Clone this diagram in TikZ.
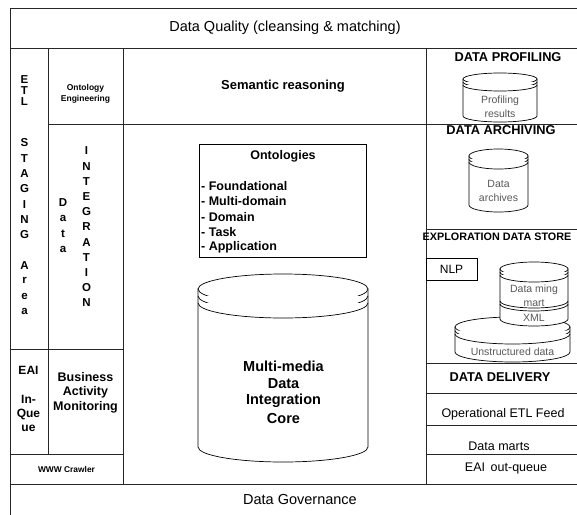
\documentclass[tikz,border=0pt]{standalone}
\usepackage{fontspec}
\setmainfont{Liberation Sans}
\newcommand\myfs[1]{\fontsize{#1}{#1}\selectfont}
\newcommand\mycyl[6]{% cx, rx, top, bottom, ry, gap
  \filldraw[cyl] (#1-#2,#3+#5) -- (#1-#2,#4-#5) arc[start angle=180,end angle=0,x radius=#2,y radius=#5] -- (#1+#2,#3+#5) -- cycle;
  \filldraw[cyl] (#1,#3+#5) ellipse[x radius=#2,y radius=#5];
  \draw[cyl] (#1-#2,#3+#5+#6) arc[start angle=180,end angle=0,x radius=#2,y radius=#5];
  \draw[cyl] (#1-#2,#3+#5+2*#6) arc[start angle=180,end angle=0,x radius=#2,y radius=#5];
}
\begin{document}
\begin{tikzpicture}[x=1pt,y=-1pt,
  ln/.style={draw=black!85,line width=0.8pt},
  cyl/.style={draw=black,fill=white,line width=0.7pt},
  t/.style={inner sep=0pt,anchor=center},
  vl/.style={t,font=\bfseries\myfs{11.5}},
  bx/.style={draw=black,line width=0.7pt,fill=white},
  gtx/.style={t,text=black!65,font=\myfs{10.5}}]
\useasboundingbox (0,0) rectangle (577,514);
\clip (0,0) rectangle (577,514);

% grid lines
\draw[ln] (10,8) rectangle (582,520);
\draw[ln] (10,48) -- (582,48);
\draw[ln] (48,124) -- (582,124);
\draw[ln] (10,349) -- (123,349);
\draw[ln] (10,454) -- (123,454);
\draw[ln] (10,484) -- (582,484);
\draw[ln] (48,48) -- (48,454);
\draw[ln] (123,48) -- (123,484);
\draw[ln] (426,48) -- (426,484);
\draw[ln] (426,229) -- (582,229);
\draw[ln] (426,363) -- (582,363);
\draw[ln] (426,393) -- (582,393);
\draw[ln] (426,425) -- (582,425);
\draw[ln] (426,454) -- (582,454);

% top / bottom bands
\node[t,font=\myfs{14.5}] (dq) at (285,28) {Data Quality (cleansing \& matching)};
\node[t,font=\myfs{14.5}] (dg) at (300,499) {Data Governance};

% left columns
\foreach \ch/\yy [count=\i] in {E/79.5,T/90.5,L/101.5}
  \node[vl] (etl\i) at (24.5,\yy) {\ch};
\foreach \ch/\yy [count=\i] in {S/143,T/158.3,A/173.6,G/188.9,I/204.2,N/219.5,G/234.8,A/265.4,r/280.7,e/296,a/311.3}
  \node[vl] (stg\i) at (24.5,\yy) {\ch};
\foreach \ch/\yy [count=\i] in {D/203,a/218.5,t/234,a/249.5}
  \node[vl] (dat\i) at (63,\yy) {\ch};
\foreach \ch [count=\i] in {I,N,T,E,G,R,A,T,I,O,N}
  \node[vl] (int\i) at (86.5,{151+(\i-1)*15.2}) {\ch};

\node[t,font=\bfseries\myfs{8.5}] (oe1) at (85.5,88) {Ontology};
\node[t,font=\bfseries\myfs{8.5}] (oe2) at (85.5,99) {Engineering};

\node[t,font=\bfseries\myfs{12}] (eai1) at (28.5,370) {EAI};
\node[t,font=\bfseries\myfs{12}] (eai2) at (28.5,399.5) {In-};
\node[t,font=\bfseries\myfs{12}] (eai3) at (28.5,414) {Que};
\node[t,font=\bfseries\myfs{12}] (eai4) at (28.5,428) {ue};

\node[t,font=\bfseries\myfs{12.5}] (bam1) at (85.5,377) {Business};
\node[t,font=\bfseries\myfs{12.5}] (bam2) at (85.5,392) {Activity};
\node[t,font=\bfseries\myfs{12.5}] (bam3) at (85.5,407) {Monitoring};

\node[t,font=\bfseries\myfs{8.4}] (www) at (66.5,469) {WWW Crawler};

% centre column
\node[t,font=\bfseries\myfs{13}] (sr) at (283,86) {Semantic reasoning};
\draw[bx] (199,144) rectangle (366,257);
\node[t,font=\bfseries\myfs{12.5}] (ont) at (283,156) {Ontologies};
\foreach \tx/\yy [count=\i] in {Foundational/186,Multi-domain/201.3,Domain/216.6,Task/231.9,Application/247.2}
  \node[inner sep=0pt,anchor=west,font=\bfseries\myfs{12.5}] (ol\i) at (201,\yy) {- \tx};

\mycyl{283}{85}{274}{462}{15}{7}
\node[t,font=\bfseries\myfs{14.5}] (core1) at (283.5,366) {Multi-media};
\node[t,font=\bfseries\myfs{14.5}] (core2) at (283.5,383.5) {Data};
\node[t,font=\bfseries\myfs{14.5}] (core3) at (283.5,401) {Integration};
\node[t,font=\bfseries\myfs{14.5}] (core4) at (283.5,418) {Core};

% right column
\node[t,font=\bfseries\myfs{12.8}] (dp) at (508,57) {DATA PROFILING};
\mycyl{500}{37}{73}{122}{6}{3}
\node[gtx] (pr1) at (500,101) {Profiling};
\node[gtx] (pr2) at (500,114) {results};

\node[t,font=\bfseries\myfs{12.8}] (da) at (501,130) {DATA ARCHIVING};
\mycyl{498.5}{29.5}{149}{212}{7}{3}
\node[gtx] (ar1) at (498.5,184) {Data};
\node[gtx] (ar2) at (498.5,198) {archives};

\node[t,font=\bfseries\myfs{10.8}] (eds) at (497,237) {EXPLORATION DATA STORE};
\draw[bx] (426,258) rectangle (477,280);
\node[t,font=\myfs{12}] (nlp) at (451.5,269) {NLP};

\mycyl{512.5}{57.5}{317}{362}{10}{3.5}
\node[gtx] (un) at (512.5,352) {Unstructured data};
\mycyl{534}{34}{262}{326}{7}{3}
\draw[cyl,fill=none] (500,301) arc[start angle=180,end angle=0,x radius=34,y radius=7];
\draw[cyl,fill=none] (500,304) arc[start angle=180,end angle=0,x radius=34,y radius=7];
\node[gtx] (dm1) at (534,290) {Data ming};
\node[gtx] (dm2) at (534,303) {mart};
\node[gtx] (xml) at (534,317.5) {XML};

\node[t,font=\bfseries\myfs{12.8}] (dd) at (500,377) {DATA DELIVERY};
\node[t,font=\myfs{12.5}] (oef) at (503,414) {Operational ETL Feed};
\node[t,font=\myfs{12.5}] (dmt) at (499,446) {Data marts};
\node[t,font=\myfs{12.5}] (eoq) at (506,468) {EAI\hspace{0.45em}out-queue};
\end{tikzpicture}
\end{document}
